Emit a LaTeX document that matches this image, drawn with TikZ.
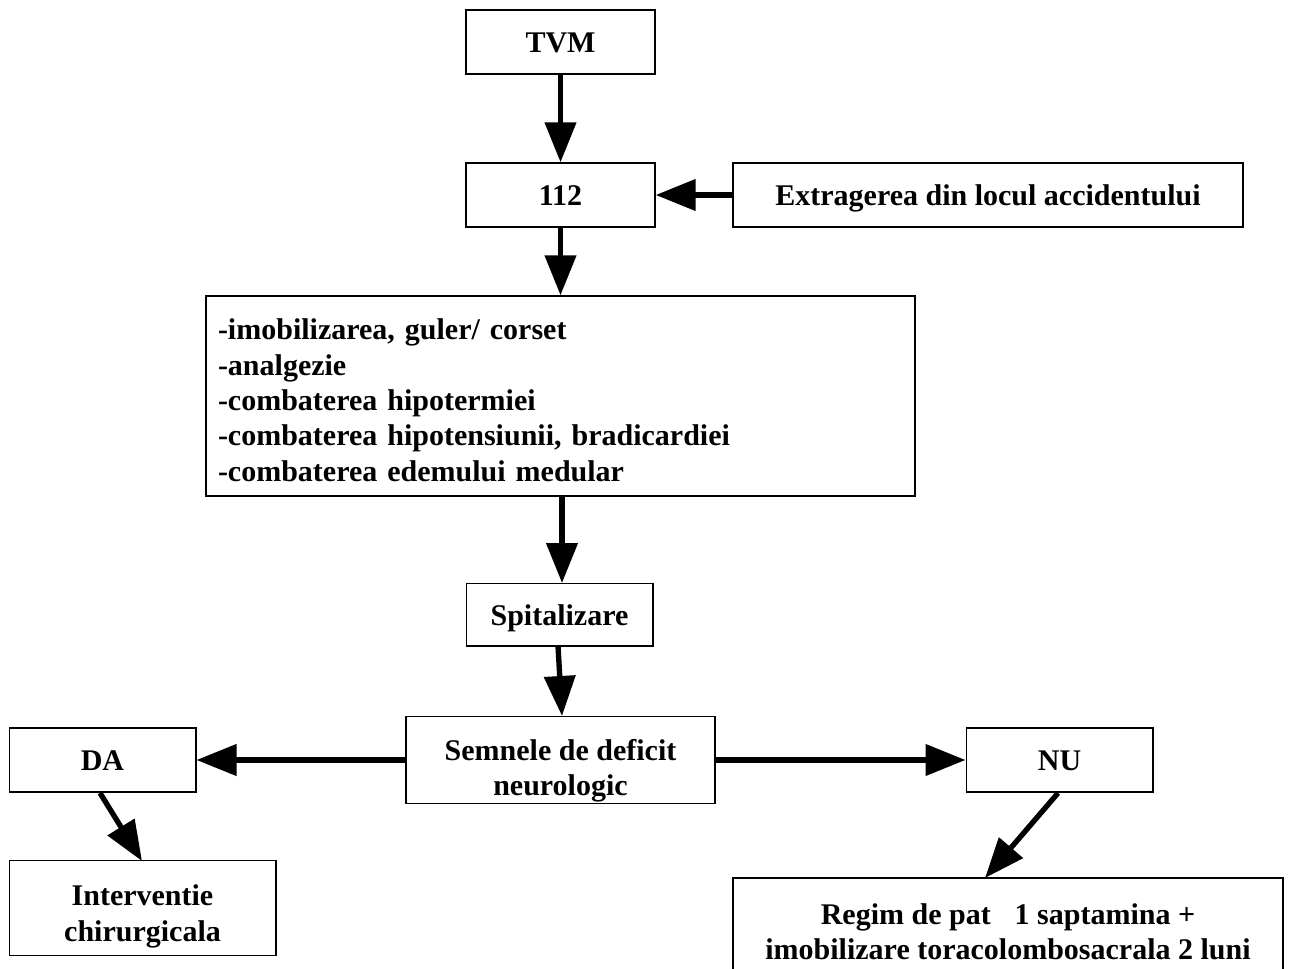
\documentclass[tikz,border=0pt]{standalone}
\usepackage{fontspec}
\setmainfont{Liberation Serif}
\usetikzlibrary{arrows.meta}

\newcommand{\topgap}[1]{\rule{0pt}{#1}}

\tikzset{
  box/.style={draw, line width=1pt, inner sep=2pt, align=center, font=\bfseries\fontsize{22.5}{26.5}\selectfont},
  oneline/.style={text height=18pt, text depth=2.2pt},
  flow/.style={line width=4pt, -{Triangle[length=30pt,width=23pt]}}
}

\begin{document}
\begin{tikzpicture}[x=0.75pt, y=-0.75pt]

\useasboundingbox (0,0) rectangle (1291,969);
\clip (0,0) rectangle (1291,969);

\node[box, oneline, minimum width=141.75pt, minimum height=48pt] (TVM) at (560.5,42) {TVM};
\node[box, oneline, minimum width=141.75pt, minimum height=48pt] (urgenta) at (560.5,195) {112};
\node[box, oneline, minimum width=382.5pt, minimum height=48pt] (extragere) at (988,195) {Extragerea din locul accidentului};
\node[box, minimum height=150pt, text width=513.75pt, inner xsep=9pt, inner ysep=0pt, align=left] (masuri) at (560.5,396)
  {\topgap{22pt}-imobilizarea, guler/ corset\\
   -analgezie\\
   -combaterea hipotermiei\\
   -combaterea hipotensiunii, bradicardiei\\
   -combaterea edemului medular};
\node[box, oneline, minimum width=140pt, minimum height=47pt] (spital) at (559.5,614.5) {Spitalizare};
\node[box, inner ysep=0pt, minimum width=231.75pt, minimum height=65.25pt] (deficit) at (560.5,760)
  {\topgap{32pt}Semnele de deficit\\neurologic};
\node[box, oneline, minimum width=140pt, minimum height=48pt] (da) at (102.5,760) {DA};
\node[box, oneline, minimum width=140pt, minimum height=48pt] (nu) at (1059.5,760) {NU};
\node[box, inner ysep=0pt, minimum width=200pt, minimum height=71pt] (interventie) at (142.5,908)
  {\topgap{28pt}Interventie\\chirurgicala};
\node[box, minimum width=412.5pt, minimum height=81pt] (regim) at (1008,932)
  {Regim de pat\hspace{0.55em} 1 saptamina +\\imobilizare toracolombosacrala 2 luni};

\coordinate (daout) at (100,793);
\coordinate (interin) at (142,861);
\coordinate (nuout) at (1058,793);
\coordinate (regimin) at (985,878);
\coordinate (masuriout) at (562,496);
\coordinate (spitalin) at (562,583);
\coordinate (spitalout) at (558,646);
\coordinate (deficitin) at (562,716);

\foreach \from/\to in {TVM/urgenta, urgenta/masuri, extragere/urgenta, deficit/da, deficit/nu}
	\draw[flow] (\from) -- (\to);

\foreach \from/\to in {masuriout/spitalin, spitalout/deficitin, daout/interin, nuout/regimin}
	\draw[flow] (\from) -- (\to);

\end{tikzpicture}
\end{document}
